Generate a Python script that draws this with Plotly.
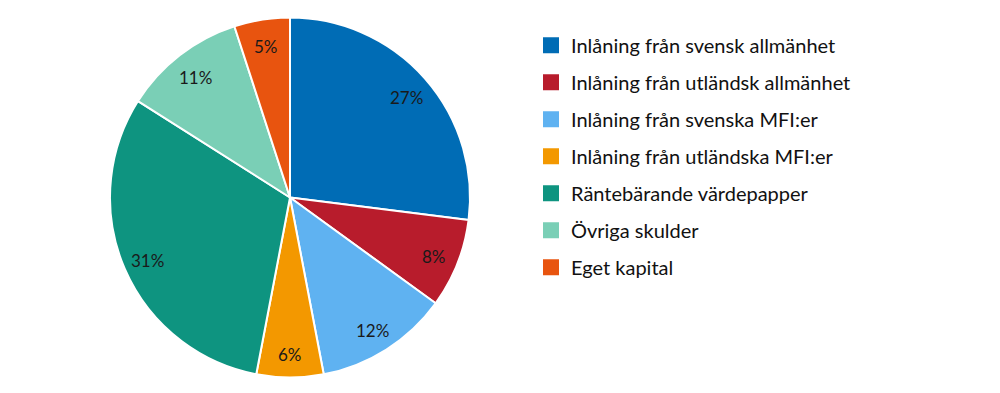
import math
import plotly.graph_objects as go

labels = ["Inlåning från svensk allmänhet", "Inlåning från utländsk allmänhet",
          "Inlåning från svenska MFI:er", "Inlåning från utländska MFI:er",
          "Räntebärande värdepapper", "Övriga skulder", "Eget kapital"]
values = [27, 8, 12, 6, 31, 11, 5]
colors = ["#006CB5", "#B81C2C", "#5FB2F1", "#F39800", "#0E9480", "#7ACFB6", "#E8540F"]

FONT = "Lato"
W, H = 1000, 393
cx, cy, r = 282, 189.5, 180   # figure pixel coords (page adds 8px body margin)

fig = go.Figure()
fig.add_trace(go.Pie(
    labels=labels, values=values, sort=False, direction="clockwise", rotation=0,
    marker=dict(colors=colors, line=dict(color="white", width=2)),
    textinfo="none", showlegend=False, hoverinfo="label+percent",
    domain=dict(x=[(cx - r) / W, (cx + r) / W], y=[(H - cy - r) / H, (H - cy + r) / H]),
))
for i, (lab, col) in enumerate(zip(labels, colors)):
    fig.add_trace(go.Scatter(
        x=[None], y=[None], mode="markers", name=lab, legendgroup=str(i),
        marker=dict(symbol="square", size=20, color=col),
    ))

# percentage labels placed at the middle angle of each slice
total = sum(values)
cum = 0
d = 0.86 * r
for v in values:
    mid = (cum + v / 2) / total * 2 * math.pi
    cum += v
    px = cx + d * math.sin(mid)
    py = cy - d * math.cos(mid) + 2
    fig.add_annotation(x=px / W, y=(H - py) / H, xref="paper", yref="paper",
                       xanchor="center", yanchor="middle",
                       text=f"{round(v / total * 100)}%", showarrow=False,
                       font=dict(family=FONT, size=17, color="#1a1a1a"))

fig.update_layout(
    width=W, height=H, margin=dict(l=0, r=0, t=0, b=0),
    paper_bgcolor="white", plot_bgcolor="white",
    xaxis=dict(visible=False), yaxis=dict(visible=False),
    legend=dict(x=0.523, y=0.955, xanchor="left", yanchor="top",
                font=dict(family=FONT, size=20, color="#111111"),
                traceorder="grouped", tracegroupgap=8, itemsizing="trace"),
    font=dict(family=FONT),
)
fig.write_html("out.html")
